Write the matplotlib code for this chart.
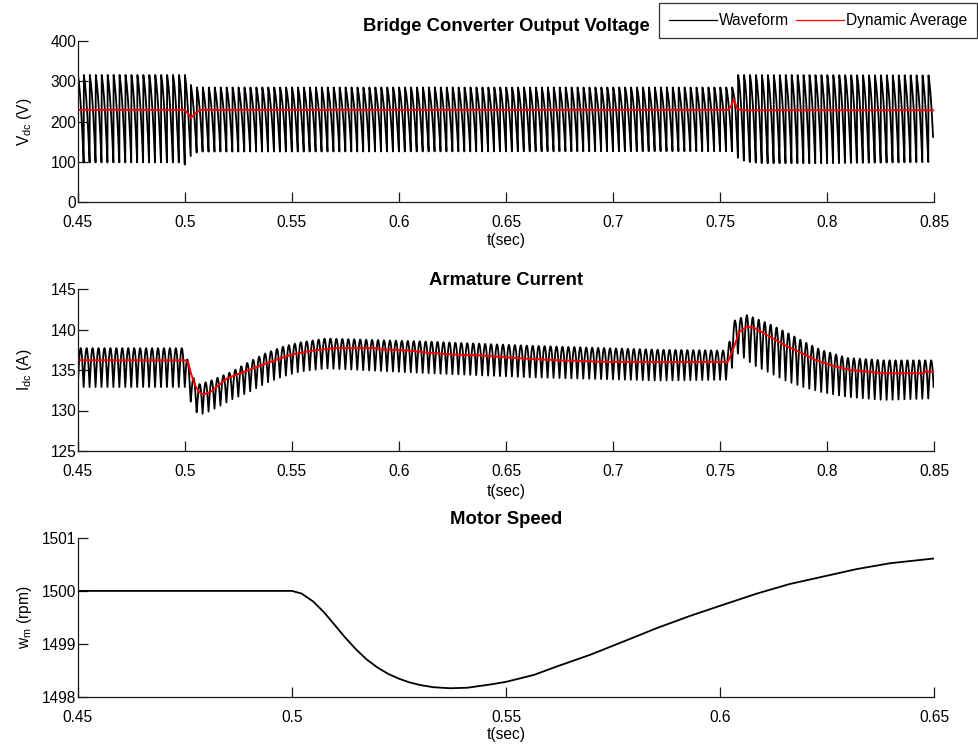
import numpy as np
import matplotlib
matplotlib.use('Agg')
import matplotlib.pyplot as plt

plt.rcParams['font.family'] = ['Liberation Sans', 'DejaVu Sans']
plt.rcParams['mathtext.default'] = 'regular'

# ------------------------------------------------------------------ data
ripple_freq = 360.0  # Hz, ripple frequency of the 6-pulse bridge

# Bridge converter output voltage: ripple envelope (V)
vdc_t_upper = [0.45, 0.5003, 0.5035, 0.7560, 0.7572, 0.85]
vdc_upper = [316, 316, 285, 285, 316, 315]
vdc_t_lower = [0.45, 0.4990, 0.5005, 0.5030, 0.5065, 0.7555, 0.7575, 0.7620, 0.7700, 0.80, 0.85]
vdc_lower = [98, 98, 90, 116, 125, 126, 112, 100, 96, 96, 99]
# one ripple cycle: (phase, normalised level)
vdc_pulse_phase = [0.00, 0.04, 0.23, 0.42, 0.62, 0.81]
vdc_pulse_level = [0.00, 1.00, 0.90, 0.75, 0.54, 0.29]
# dynamic average (V)
vdc_avg_t = [0.45, 0.5, 0.5015, 0.5029, 0.5045, 0.5073, 0.7536, 0.7550, 0.7564, 0.7580,
             0.7600, 0.7626, 0.85]
vdc_avg = [229, 229, 220, 209, 218, 229, 229, 236, 255, 232, 229, 228, 228]

# Armature current: ripple envelope (A)
idc_t_upper = [0.45, 0.5, 0.503, 0.506, 0.5114, 0.522, 0.53, 0.538, 0.546, 0.5536, 0.566,
               0.6147, 0.6614, 0.722, 0.7536, 0.7559, 0.7627, 0.7736, 0.7814, 0.7892, 0.797,
               0.8094, 0.8264, 0.85]
idc_upper = [137.7, 137.7, 134.5, 133.2, 133.6, 134.8, 136.0, 137.1, 137.9, 138.4, 138.9,
             138.5, 138.0, 137.5, 137.4, 141.0, 141.8, 140.6, 139.6, 138.5, 137.5,
             136.5, 136.2, 136.2]
idc_t_lower = [0.45, 0.5, 0.5037, 0.506, 0.5086, 0.5114, 0.5145, 0.5223, 0.5301, 0.538, 0.5458,
               0.5536, 0.566, 0.6147, 0.6614, 0.722, 0.7536, 0.758, 0.7658, 0.7736, 0.7814,
               0.789, 0.797, 0.809, 0.8264, 0.85]
idc_lower = [132.9, 132.9, 130.5, 129.6, 129.6, 129.9, 130.3, 131.4, 132.3, 133.4, 134.2,
             134.8, 135.2, 134.6, 134.1, 133.7, 133.8, 137.1, 135.6, 134.6, 133.6,
             132.9, 132.3, 131.7, 131.3, 131.5]
idc_pulse_phase = [0.0, 0.1, 0.2, 0.3, 0.4, 0.5, 0.6, 0.7, 0.8, 0.9]
idc_pulse_level = [0.0, 0.30, 0.58, 0.81, 0.95, 1.0, 0.95, 0.81, 0.58, 0.30]
# dynamic average (A)
idc_avg_t = [0.45, 0.5, 0.5015, 0.503, 0.505, 0.507, 0.509, 0.512, 0.52, 0.53, 0.54, 0.55,
             0.56, 0.57, 0.59, 0.591, 0.605, 0.615, 0.626, 0.638, 0.648, 0.659, 0.675, 0.697,
             0.7536, 0.756, 0.759, 0.7626, 0.766, 0.772, 0.780, 0.788, 0.795, 0.803, 0.811,
             0.819, 0.826, 0.845, 0.846, 0.85]
idc_avg = [136.2, 136.2, 136.0, 134.5, 133.0, 132.2, 132.0, 132.3, 134.0, 135.0, 136.0, 136.9,
           137.4, 137.7, 137.7, 137.55, 137.4, 137.1, 136.9, 136.8, 136.6, 136.4, 136.2, 136.0,
           136.0, 137.5, 139.7, 140.35, 140.2, 139.3, 138.1, 137.1, 136.2, 135.5, 135.0,
           134.8, 134.6, 134.6, 134.8, 134.8]

# Motor speed (rpm)
speed_t = [0.45, 0.5, 0.5023, 0.505, 0.5075, 0.51, 0.5125, 0.515, 0.5175, 0.52, 0.5225,
           0.525, 0.5275, 0.53, 0.533, 0.537, 0.541, 0.5463, 0.55, 0.5565, 0.5619, 0.5697,
           0.5775, 0.5852, 0.593, 0.6, 0.6086, 0.6163, 0.6241, 0.6319, 0.6397, 0.65]
speed = [1500.0, 1500.0, 1499.95, 1499.80, 1499.60, 1499.36, 1499.12, 1498.90, 1498.71,
         1498.56, 1498.44, 1498.35, 1498.28, 1498.23, 1498.19, 1498.17, 1498.18, 1498.24,
         1498.29, 1498.42, 1498.58, 1498.80, 1499.05, 1499.30, 1499.53, 1499.72, 1499.95,
         1500.13, 1500.27, 1500.41, 1500.52, 1500.61]

x_ticks_top = [0.45, 0.5, 0.55, 0.6, 0.65, 0.7, 0.75, 0.8, 0.85]
x_ticklabels_top = ['0.45', '0.5', '0.55', '0.6', '0.65', '0.7', '0.75', '0.8', '0.85']
x_ticks_bot = [0.45, 0.5, 0.55, 0.6, 0.65]
x_ticklabels_bot = ['0.45', '0.5', '0.55', '0.6', '0.65']
vdc_yticks = [0, 100, 200, 300, 400]
idc_yticks = [125, 130, 135, 140, 145]
speed_yticks = [1498, 1499, 1500, 1501]


# --------------------------------------------------------------- helpers
def build_ripple(t_start, t_end, freq, phase, level, tu, vu, tl, vl):
    period = 1.0 / freq
    n = int(np.ceil((t_end - t_start) / period)) + 1
    k = np.arange(n)[:, None]
    t = (t_start + (k + np.asarray(phase)[None, :]) * period).ravel()
    s = np.tile(level, n)
    m = t <= t_end
    t, s = t[m], s[m]
    up = np.interp(t, tu, vu)
    lo = np.interp(t, tl, vl)
    return t, lo + (up - lo) * s


def style_axes(ax):
    for sp in ('top', 'right'):
        ax.spines[sp].set_visible(False)
    for sp in ('left', 'bottom'):
        ax.spines[sp].set_linewidth(0.9)
        ax.spines[sp].set_color('#1a1a1a')
    ax.tick_params(direction='in', length=7.2, width=0.9, color='#1a1a1a',
                   labelsize=11.2)
    ax.tick_params(axis='y', pad=1.0)
    ax.tick_params(axis='x', pad=9.5)


W, H = 979, 748
fig = plt.figure(figsize=(W / 100, H / 100), dpi=100)

left = 77.7 / W
width = (934.2 - 77.7) / W
TITLE_FS = 13.3
LBL_FS = 11.2

# ----------------------------------------------------------- top axes
ax1 = fig.add_axes([left, 1 - 201.7 / H, width, (201.7 - 41.3) / H])
tv, vv = build_ripple(0.45, 0.85, ripple_freq, vdc_pulse_phase, vdc_pulse_level,
                      vdc_t_upper, vdc_upper, vdc_t_lower, vdc_lower)
l_wave, = ax1.plot(tv, vv, color='black', lw=1.3)
l_avg, = ax1.plot(vdc_avg_t, vdc_avg, color='red', lw=1.4)
ax1.set_xlim(0.45, 0.85)
ax1.set_ylim(0, 400)
ax1.set_xticks(x_ticks_top)
ax1.set_xticklabels(x_ticklabels_top)
ax1.set_yticks(vdc_yticks)
style_axes(ax1)
ax1.set_title('Bridge Converter Output Voltage', fontsize=TITLE_FS, fontweight='bold', pad=7.5)
ax1.set_ylabel('V$_{dc}$ (V)', fontsize=LBL_FS)
ax1.set_xlabel('t(sec)', fontsize=LBL_FS)
ax1.yaxis.set_label_coords(-0.051, 0.5)
ax1.xaxis.set_label_coords(0.5, -0.239)
ax1.xaxis.label.set_va('center')

# ----------------------------------------------------------- middle axes
ax2 = fig.add_axes([left, 1 - 451.0 / H, width, (451.0 - 289.0) / H])
ti, vi = build_ripple(0.45, 0.85, ripple_freq, idc_pulse_phase, idc_pulse_level,
                      idc_t_upper, idc_upper, idc_t_lower, idc_lower)
ax2.plot(ti, vi, color='black', lw=1.3)
ax2.plot(idc_avg_t, idc_avg, color='red', lw=1.4)
ax2.set_xlim(0.45, 0.85)
ax2.set_ylim(125, 145)
ax2.set_xticks(x_ticks_top)
ax2.set_xticklabels(x_ticklabels_top)
ax2.set_yticks(idc_yticks)
style_axes(ax2)
ax2.set_title('Armature Current', fontsize=TITLE_FS, fontweight='bold', pad=1.5)
ax2.set_ylabel('I$_{dc}$ (A)', fontsize=LBL_FS)
ax2.set_xlabel('t(sec)', fontsize=LBL_FS)
ax2.yaxis.set_label_coords(-0.051, 0.5)
ax2.xaxis.set_label_coords(0.5, -0.253)
ax2.xaxis.label.set_va('center')

# ----------------------------------------------------------- bottom axes
ax3 = fig.add_axes([left, 1 - 697.3 / H, width, (697.3 - 537.7) / H])
ax3.plot(speed_t, speed, color='black', lw=1.3)
ax3.set_xlim(0.45, 0.65)
ax3.set_ylim(1498, 1501)
ax3.set_xticks(x_ticks_bot)
ax3.set_xticklabels(x_ticklabels_bot)
ax3.set_yticks(speed_yticks)
style_axes(ax3)
ax3.set_title('Motor Speed', fontsize=TITLE_FS, fontweight='bold', pad=10)
ax3.set_ylabel('w$_{m}$ (rpm)', fontsize=LBL_FS)
ax3.set_xlabel('t(sec)', fontsize=LBL_FS)
ax3.yaxis.set_label_coords(-0.051, 0.5)
ax3.xaxis.set_label_coords(0.5, -0.236)
ax3.xaxis.label.set_va('center')

# ----------------------------------------------------------- legend
leg = fig.legend([l_wave, l_avg], ['Waveform', 'Dynamic Average'], ncol=2,
                 loc='upper right', bbox_to_anchor=(977 / W, 1 - 3 / H),
                 fontsize=LBL_FS, frameon=True, fancybox=False, shadow=False,
                 borderaxespad=0.0, handlelength=3.1, handletextpad=0.12,
                 columnspacing=0.4, borderpad=0.65)
leg.get_frame().set_edgecolor('black')
leg.get_frame().set_linewidth(0.9)
leg.get_lines()[0].set_linewidth(0.9)
leg.get_lines()[1].set_linewidth(0.9)

fig.savefig('out.png', dpi=100)
